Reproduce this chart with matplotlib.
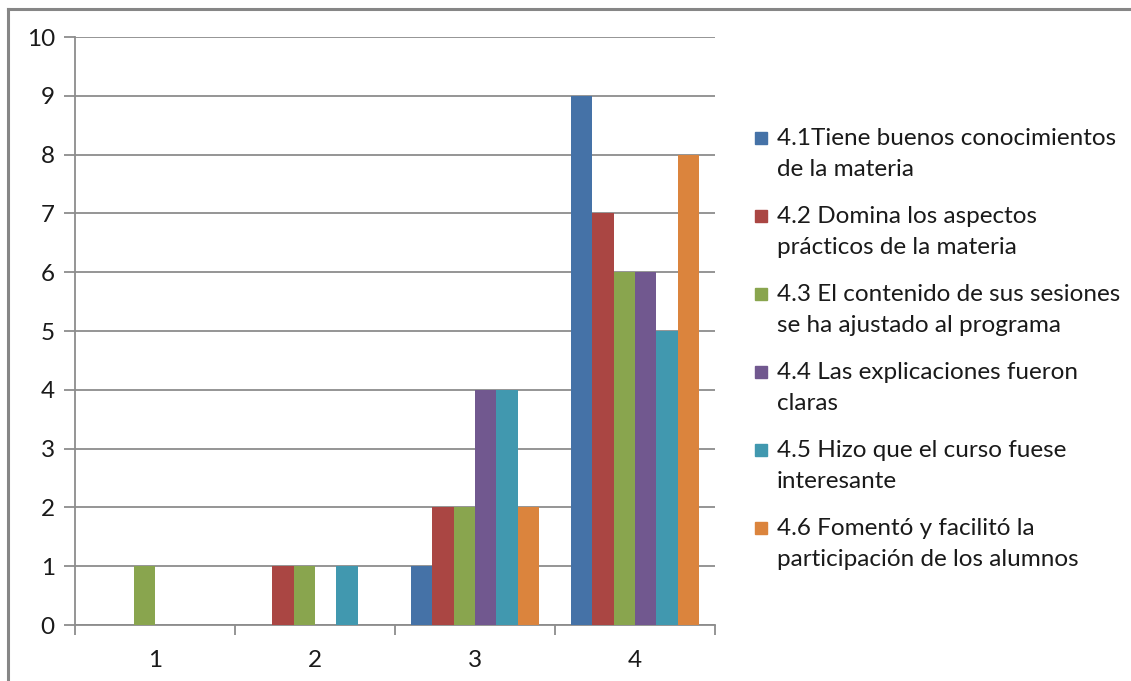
import matplotlib
matplotlib.use("Agg")
import matplotlib.pyplot as plt
import numpy as np
from matplotlib.patches import Rectangle

categories = ["1", "2", "3", "4"]
series_labels = [
    "4.1Tiene buenos conocimientos\nde la materia",
    "4.2 Domina los aspectos\nprácticos de la materia",
    "4.3 El contenido de sus sesiones\nse ha ajustado al programa",
    "4.4 Las explicaciones fueron\nclaras",
    "4.5 Hizo que el curso fuese\ninteresante",
    "4.6 Fomentó y facilitó la\nparticipación de los alumnos",
]
s41 = [0, 0, 1, 9]
s42 = [0, 1, 2, 7]
s43 = [1, 1, 2, 6]
s44 = [0, 0, 4, 6]
s45 = [0, 1, 4, 5]
s46 = [0, 0, 2, 8]
series_values = [s41, s42, s43, s44, s45, s46]
colors = ["#4572A7", "#AA4643", "#89A54E", "#71588F", "#4198AF", "#DB843D"]
yticks = [0, 1, 2, 3, 4, 5, 6, 7, 8, 9, 10]

W, H = 1131, 681
plt.rcParams['font.family'] = ['Lato', 'DejaVu Sans']
FS = 17.5
fig = plt.figure(figsize=(W / 100, H / 100), dpi=100)

# outer chart border (only top and left visible)
fig.add_artist(plt.Line2D([8 / W, 8 / W], [0, 1 - 8.5 / H], transform=fig.transFigure,
                          color="#868686", lw=2.2))
fig.add_artist(plt.Line2D([8 / W, 1], [1 - 8.5 / H, 1 - 8.5 / H], transform=fig.transFigure,
                          color="#868686", lw=2.2))

left, right, top, bottom = 75, 715, 37, 625
ax = fig.add_axes([left / W, 1 - bottom / H, (right - left) / W, (bottom - top) / H])

n = len(series_values)
group_w = 0.8
bw = group_w / n
x = np.arange(len(categories))
for i, (vals, c) in enumerate(zip(series_values, colors)):
    ax.bar(x - group_w / 2 + bw * (i + 0.5), vals, width=bw, color=c, zorder=3,
           edgecolor="none")

ax.set_xlim(-0.5, len(categories) - 0.5)
ax.set_ylim(0, 10)
ax.set_yticks(yticks)
ax.set_yticklabels([str(v) for v in yticks], fontsize=FS, color="#1a1a1a")
ax.yaxis.grid(True, color="#8c8c8c", lw=1.3, zorder=0)
ax.set_axisbelow(True)

ax.set_xticks(x)
ax.set_xticklabels(categories, fontsize=FS, color="#1a1a1a")
ax.tick_params(axis="x", length=0, pad=18)
ax.set_xticks(np.arange(len(categories) + 1) - 0.5, minor=True)
ax.tick_params(axis="x", which="minor", length=7, color="#8c8c8c", width=1.3)
ax.tick_params(axis="y", length=8, color="#8c8c8c", width=1.3, pad=6.5)

for s in ["top", "right"]:
    ax.spines[s].set_visible(False)
for s in ["left", "bottom"]:
    ax.spines[s].set_color("#8c8c8c")
    ax.spines[s].set_linewidth(1.3)

# legend
for i, (lab, c) in enumerate(zip(series_labels, colors)):
    yc = 138 + 78 * i
    fig.add_artist(Rectangle((755 / W, 1 - (yc + 6) / H), 12 / W, 12 / H,
                             transform=fig.transFigure, color=c))
    fig.text(777 / W, 1 - (yc - 10) / H, lab, fontsize=FS, va="top", ha="left",
             color="#1a1a1a", linespacing=1.57)

fig.savefig("out.png", dpi=100)
